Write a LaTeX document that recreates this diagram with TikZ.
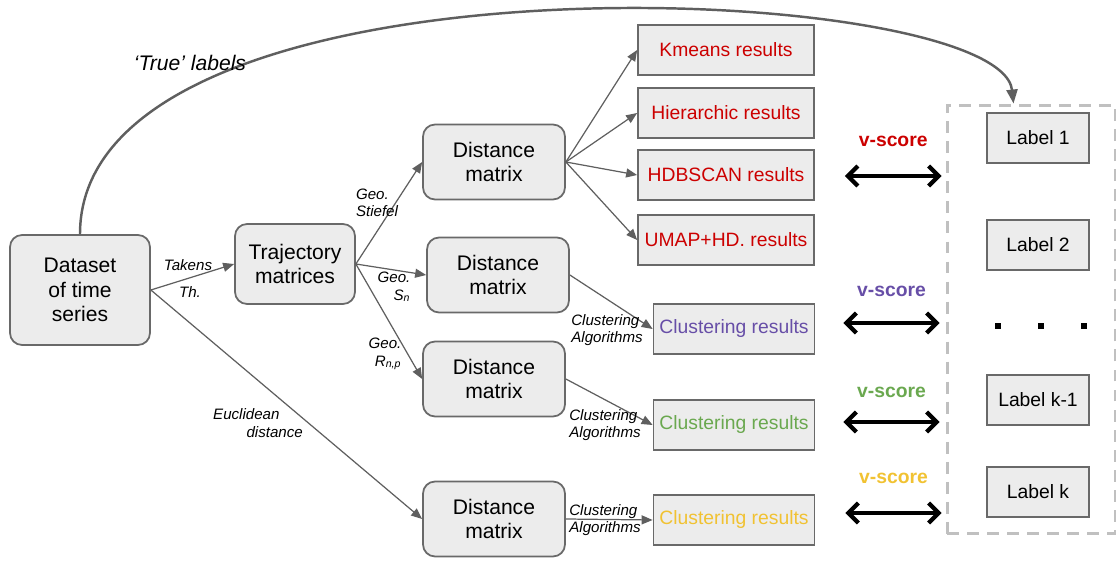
\documentclass[tikz,border=0pt]{standalone}
\usepackage{fontspec}
\setmainfont{Liberation Sans}
\usetikzlibrary{arrows.meta,calc}
\definecolor{boxfill}{RGB}{236,236,236}
\definecolor{boxline}{RGB}{105,105,105}
\definecolor{linegray}{RGB}{95,95,95}
\definecolor{dashgray}{RGB}{192,192,192}
\definecolor{resred}{RGB}{204,0,0}
\definecolor{respurple}{RGB}{103,78,167}
\definecolor{resgreen}{RGB}{106,168,79}
\definecolor{resyellow}{RGB}{241,194,50}

\begin{document}
\begin{tikzpicture}[x=0.02cm,y=-0.02cm,
  proc/.style={draw=boxline,fill=boxfill,line width=1pt,rounded corners=0.24cm,minimum width=2.84cm,minimum height=1.5cm,align=center,font=\fontsize{12}{13.8}\selectfont},
  res/.style={draw=boxline,fill=boxfill,line width=1pt,minimum width=3.52cm,minimum height=1cm,font=\fontsize{11}{13}\selectfont},
  lblbox/.style={draw=boxline,fill=boxfill,line width=1pt,minimum width=2.04cm,minimum height=1cm,font=\fontsize{11}{13}\selectfont},
  edgetext/.style={font=\fontsize{8.6}{10}\selectfont\itshape,inner sep=0pt},
  flow/.style={draw=linegray,line width=0.7pt,-{Triangle[length=0.22cm,width=0.18cm]}},
  vs/.style={line width=2.4pt,{Straight Barb[length=0.2cm,width=0.4cm]}-{Straight Barb[length=0.2cm,width=0.4cm]}},
  vstext/.style={font=\fontsize{11}{13}\selectfont\bfseries}]
\useasboundingbox (0,0) rectangle (1116,563);

% boxes
\node[proc,minimum width=2.8cm,minimum height=2.2cm] (data) at (80,290) {Dataset\\of time\\series};
\node[proc,minimum width=2.4cm,minimum height=1.6cm] (traj) at (295,264) {Trajectory\\matrices};
\node[proc] (dmst) at (494,162) {Distance\\matrix};
\node[proc] (dmsn) at (498,275) {Distance\\matrix};
\node[proc] (dmrn) at (494,379) {Distance\\matrix};
\node[proc] (dmeu) at (494,519) {Distance\\matrix};

\node[res,text=resred] (kmeans) at (726,50) {Kmeans results};
\node[res,text=resred] (hier) at (726,113) {Hierarchic results};
\node[res,text=resred] (hdb) at (726,175) {HDBSCAN results};
\node[res,text=resred] (umap) at (726,240) {UMAP+HD. results};
\node[res,minimum width=3.2cm,text=respurple] (clsn) at (734,329) {Clustering results};
\node[res,minimum width=3.2cm,text=resgreen] (clrn) at (734,425) {Clustering results};
\node[res,minimum width=3.2cm,text=resyellow] (cleu) at (734,520) {Clustering results};

\node[draw=dashgray,line width=1.7pt,dash pattern=on 6.8pt off 4.6pt,minimum width=3.36cm,minimum height=8.58cm] (truth) at (1031,319.5) {};
\node[lblbox] (lab1) at (1038,138) {Label 1};
\node[lblbox] (lab2) at (1038,245) {Label 2};
\node[lblbox] (labk1) at (1038,400) {Label k-1};
\node[lblbox] (labk) at (1038,492) {Label k};
\foreach \x in {998,1041,1084} \fill (\x-3,323) rectangle (\x+3,329);

% connectors
\draw[flow] (data.east) -- (traj.west);
\draw[flow] (data.east) -- (dmeu.west);
\draw[flow] (traj.east) -- (dmst.west);
\draw[flow] (traj.east) -- (dmsn.west);
\draw[flow] (traj.east) -- (dmrn.west);
\draw[flow] (dmst.east) -- (kmeans.west);
\draw[flow] (dmst.east) -- (hier.west);
\draw[flow] (dmst.east) -- (hdb.west);
\draw[flow] (dmst.east) -- (umap.west);
\draw[flow] (dmsn.east) -- (clsn.west);
\draw[flow] (dmrn.east) -- (clrn.west);
\draw[flow] (dmeu.east) -- (cleu.west);

\coordinate (top) at ($(truth.north west)+(68,0)$);
\draw[draw=linegray,line width=1.4pt,-{Triangle[length=0.28cm,width=0.22cm]}] (data.north) .. controls (80,-60) and (1000,-20) .. (top);

% labels
\node[font=\fontsize{12}{14}\selectfont\itshape] (truelab) at (190,63) {‘True’ labels};
\node[edgetext] (takens) at (188,265) {Takens};
\node[edgetext] (th) at (190,292) {Th.};
\node[edgetext,align=left] (geost) at (377,203) {Geo.\\Stiefel};
\node[edgetext,align=right] (geosn) at (394,287) {Geo.\\S\textsubscript{n}};
\node[edgetext,align=right] (georn) at (385,354) {Geo.\\R\textsubscript{n,p}};
\node[edgetext,align=left] (eucl) at (258,423) {Euclidean\\\hspace*{19pt}distance};
\node[edgetext,align=left] (algsn) at (607,330) {Clustering\\Algorithms};
\node[edgetext,align=left] (algrn) at (605,425) {Clustering\\Algorithms};
\node[edgetext,align=left] (algeu) at (605,520) {Clustering\\Algorithms};

% v-scores
\draw[vs] ($(hdb.east)+(30,1)$) -- node[vstext,text=resred,above=0.42cm] (vs1) {v-score} ($(hdb.east -| truth.west)+(-4,1)$);
\draw[vs] ($(clsn.east)+(28,-6)$) -- node[vstext,text=respurple,above=0.36cm] (vs2) {v-score} ($(clsn.east -| truth.west)+(-6,-6)$);
\draw[vs] ($(clrn.east)+(28,-3)$) -- node[vstext,text=resgreen,above=0.32cm] (vs3) {v-score} ($(clrn.east -| truth.west)+(-6,-3)$);
\draw[vs] ($(cleu.east)+(30,-7)$) -- node[vstext,text=resyellow,above=0.42cm] (vs4) {v-score} ($(cleu.east -| truth.west)+(-4,-7)$);
\end{tikzpicture}
\end{document}
